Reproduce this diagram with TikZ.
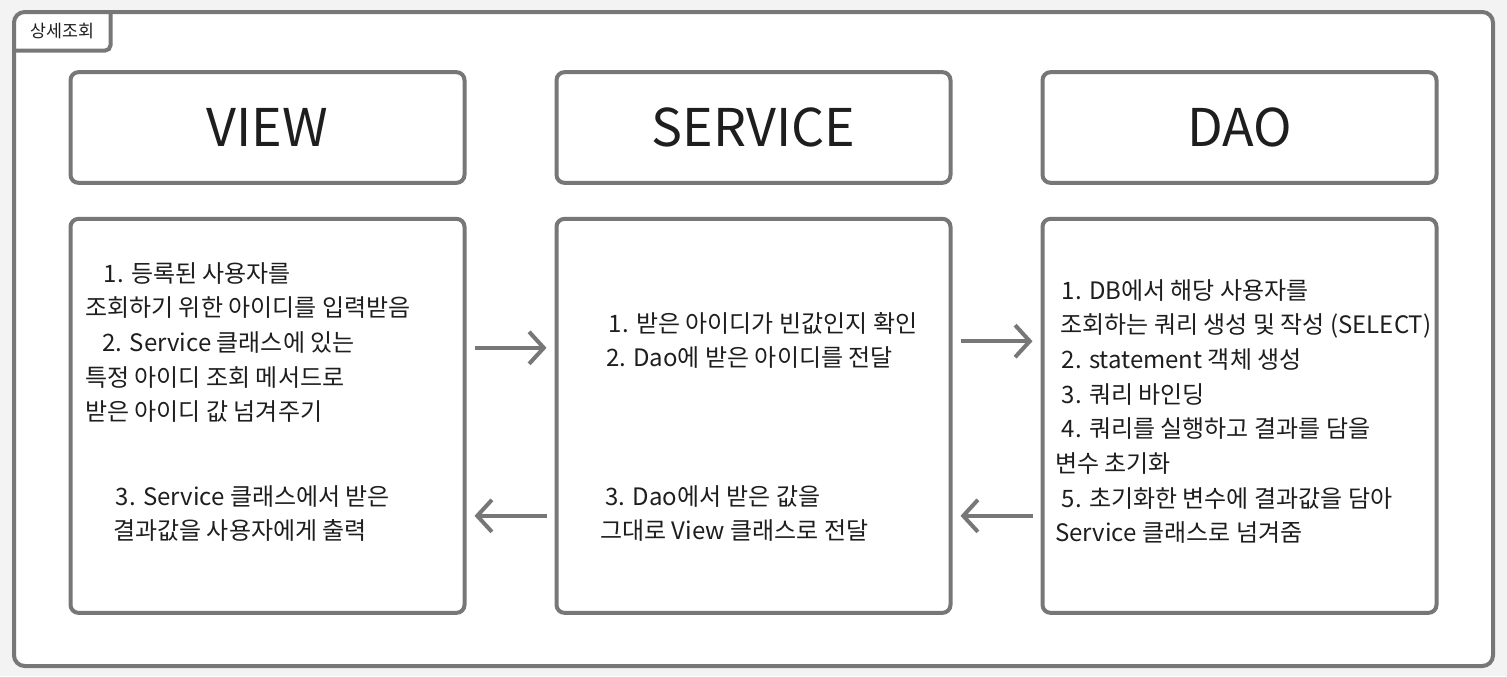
\documentclass[tikz,border=0pt]{standalone}
\usepackage{fontspec}
\setmainfont{Noto Sans CJK KR}
\usetikzlibrary{arrows.meta, positioning}
\definecolor{linegray}{HTML}{777777}
\definecolor{pagebg}{HTML}{F3F3F3}
\definecolor{inkblack}{HTML}{1E1E1E}

\begin{document}
\begin{tikzpicture}[
    x=0.75pt, y=-0.75pt,
    node distance=24pt and 66pt,
    titlebox/.style={draw=linegray, line width=3pt, rounded corners=6pt, fill=white, minimum width=295.5pt, minimum height=83pt, inner sep=0pt, text=inkblack, font=\fontsize{39}{48}\selectfont},
    bodybox/.style={draw=linegray, line width=3pt, rounded corners=6pt, fill=white, minimum width=295.5pt, minimum height=295.5pt, inner sep=0pt},
    steptext/.style={align=left, anchor=north west, inner sep=0pt, text=inkblack, font=\fontsize{18}{26}\selectfont},
    flow/.style={-{Straight Barb[length=11pt, width=24pt]}, draw=linegray, line width=3pt, shorten <=6pt, shorten >=6pt},
    font=\small
]

% Page and frame
\fill[pagebg] (0,0) rectangle (1507,676);
\draw[linegray, line width=3pt, fill=white, rounded corners=8pt] (14,12) rectangle (1493,666);
\node[anchor=north west, minimum width=72pt, minimum height=28.5pt, inner sep=0pt, text=inkblack, font=\fontsize{13}{15}\selectfont] (tab) at (14,12) {상세조회};
\draw[linegray, line width=3pt, rounded corners=4pt] (tab.south west) -| (tab.north east);

% Nodes
\node[titlebox] (view) at (267.5,127.5) {VIEW};
\node[titlebox, right=of view] (service) {SERVICE};
\node[titlebox, right=of service] (dao) {DAO};

\node[bodybox, below=of view] (viewbody) {};
\node[bodybox, below=of service] (servicebody) {};
\node[bodybox, below=of dao] (daobody) {};

% Texts
\node[steptext] (viewsteps) at (85,262) {\hspace{14pt}1. 등록된 사용자를\\조회하기 위한 아이디를 입력받음\\\hspace{13pt}2. Service 클래스에 있는\\특정 아이디 조회 메서드로\\받은 아이디 값 넘겨주기};
\node[steptext] (viewresult) at (113,485) {\hspace{2pt}3. Service 클래스에서 받은\\결과값을 사용자에게 출력};
\node[steptext] (servicesteps) at (606,312) {\hspace{2pt}1. 받은 아이디가 빈값인지 확인\\2. Dao에 받은 아이디를 전달};
\node[steptext] (serviceresult) at (600,485) {\hspace{4pt}3. Dao에서 받은 값을\\그대로 View 클래스로 전달};
\node[steptext] (daosteps) at (1055,279) {\hspace{5pt}1. DB에서 해당 사용자를\\\hspace{4pt}조회하는 쿼리 생성 및 작성 (SELECT)\\\hspace{5pt}2. statement 객체 생성\\\hspace{5pt}3. 쿼리 바인딩\\\hspace{5pt}4. 쿼리를 실행하고 결과를 담을\\변수 초기화\\\hspace{5pt}5. 초기화한 변수에 결과값을 담아\\Service 클래스로 넘겨줌};

% Arrows
\draw[flow] ([yshift=51pt]viewbody.east) -- ([yshift=51pt]servicebody.west);
\draw[flow] ([yshift=56pt]servicebody.east) -- ([yshift=56pt]daobody.west);
\draw[flow] ([yshift=-75pt]daobody.west) -- ([yshift=-75pt]servicebody.east);
\draw[flow] ([yshift=-75pt]servicebody.west) -- ([yshift=-75pt]viewbody.east);

\end{tikzpicture}
\end{document}
